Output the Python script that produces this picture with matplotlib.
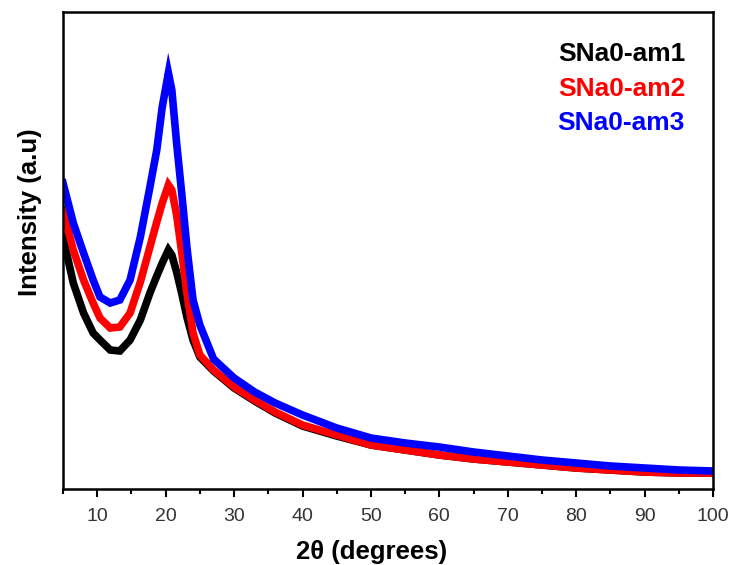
import numpy as np
import matplotlib
matplotlib.use("Agg")
import matplotlib.pyplot as plt
from matplotlib.ticker import MultipleLocator

plt.rcParams['font.family'] = ['Liberation Sans', 'DejaVu Sans']

# 2theta positions (degrees) where the curves were read
two_theta = [5, 6.5, 8, 9.4, 10.4, 11.9, 13.3, 14.8, 16.3, 17.7, 18.7, 19.5, 20.4, 20.9,
             21.6, 22.4, 23.1, 24, 25, 27, 30, 33, 36, 40, 45, 50, 55, 60, 65, 70,
             75, 80, 85, 90, 95, 100]

# intensity (a.u.)
am1 = [252, 206, 176, 156, 149, 139, 138, 149, 169, 196, 213, 226, 239, 234,
       217, 194, 172, 149, 132, 118, 101, 88, 76, 63, 53, 44, 39, 34, 30, 27,
       24, 21, 19, 17, 16, 16]
am2 = [279, 239, 209, 186, 171, 161, 162, 176, 207, 242, 267, 286, 304, 299,
       274, 234, 196, 156, 134, 119, 102, 89, 77, 64, 54, 44, 39, 34, 30, 27,
       24, 21, 19, 17, 16, 16]
am3 = [306, 266, 236, 209, 192, 186, 189, 209, 252, 302, 339, 382, 416, 399,
       346, 292, 242, 189, 164, 130, 111, 97, 86, 74, 61, 51, 46, 42, 37, 33,
       29, 26, 23, 21, 19, 18]

labels = ['SNa0-am1', 'SNa0-am2', 'SNa0-am3']
colors = ['#000000', '#ff0000', '#0000ff']

fig = plt.figure(figsize=(7.32, 5.65), dpi=100)
ax = fig.add_axes([0.0861, 0.1345, 0.8880, 0.8443])

for y, c in zip([am1, am2, am3], colors):
    ax.plot(two_theta, y, color=c, lw=5.5, solid_joinstyle='miter')

ax.set_xlim(5, 100)
ax.set_ylim(0, 477)
ax.xaxis.set_major_locator(MultipleLocator(10))
ax.xaxis.set_minor_locator(MultipleLocator(5))
ax.set_yticks([])
ax.tick_params(axis='x', which='major', direction='out', length=6, width=1.5,
               labelsize=14, labelcolor='#333333', pad=8)
ax.tick_params(axis='x', which='minor', direction='out', length=3.5, width=1.5)
for s in ax.spines.values():
    s.set_linewidth(1.8)

ax.set_xlabel('2θ (degrees)', fontsize=18.5, fontweight='bold')
ax.xaxis.set_label_coords(0.474, -0.107)
ax.set_ylabel('Intensity (a.u)', fontsize=18.5, fontweight='bold')
ax.yaxis.set_label_coords(-0.032, 0.58)

for i, (lab, c) in enumerate(zip(labels, colors)):
    ax.text(0.957, 0.912 - i * 0.0725, lab, color=c, fontsize=19, fontweight='bold',
            ha='right', va='center', transform=ax.transAxes)

fig.savefig('out.png', dpi=100)
